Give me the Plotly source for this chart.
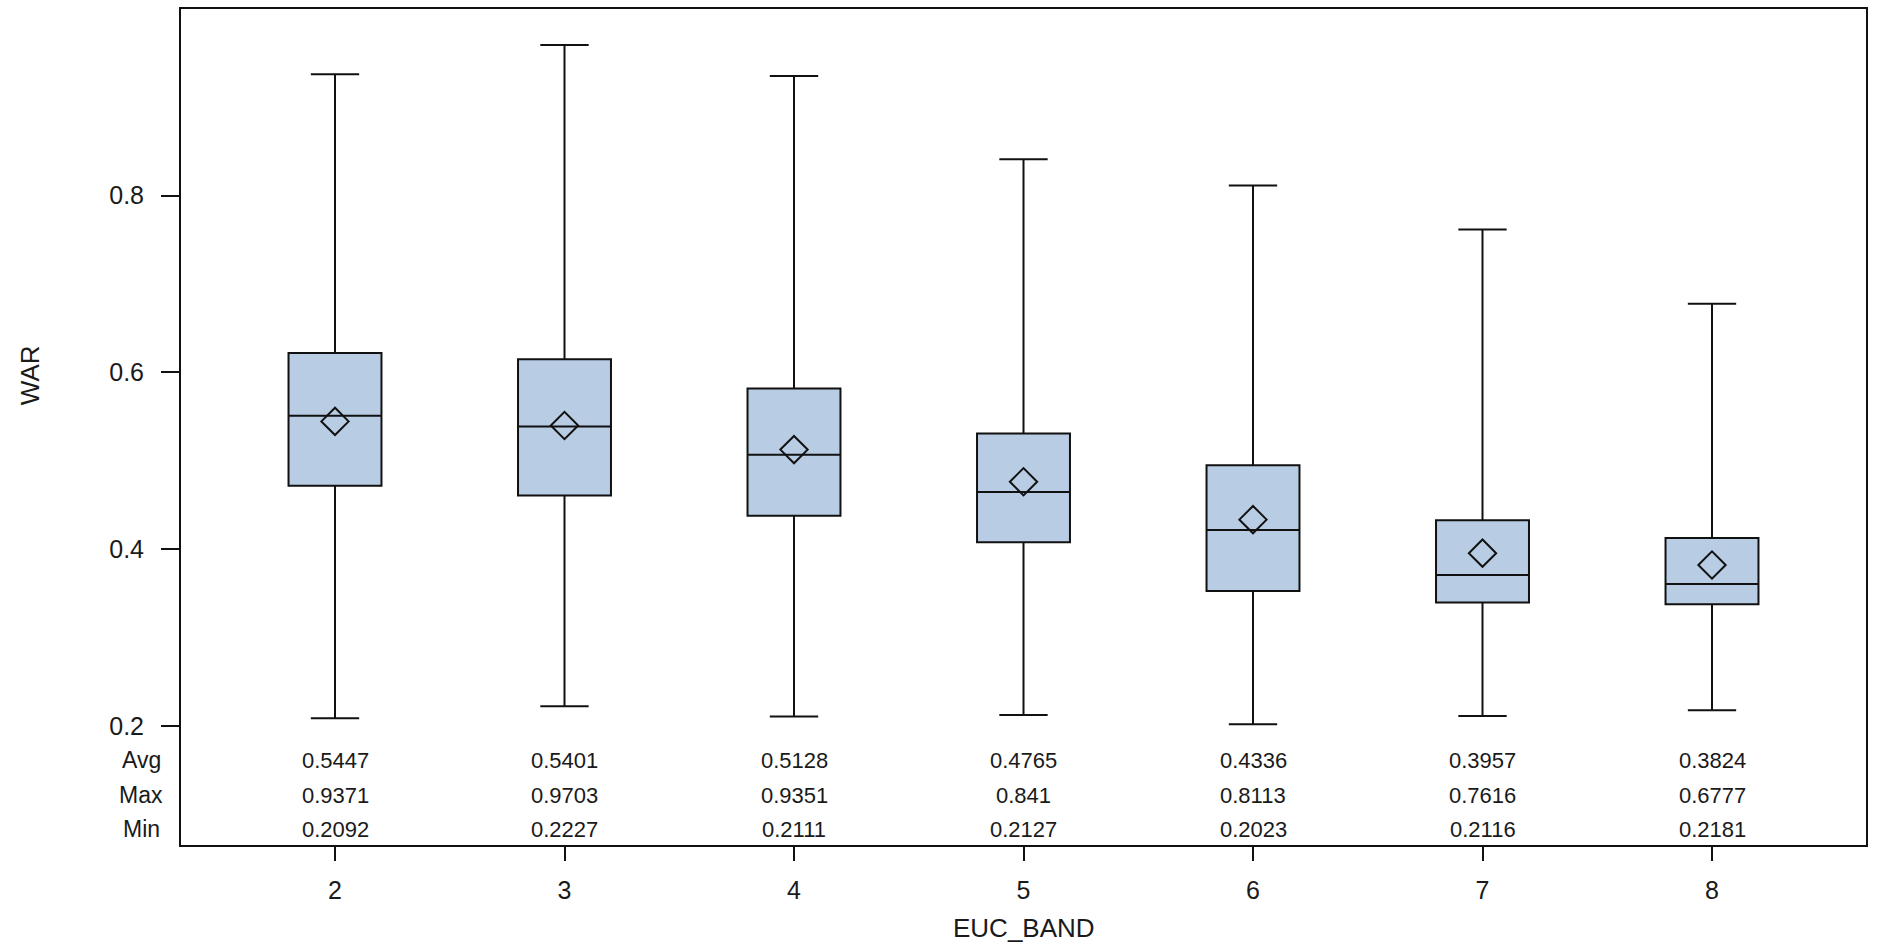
import plotly.graph_objects as go

categories = ["2", "3", "4", "5", "6", "7", "8"]
q1 = [0.472, 0.461, 0.438, 0.408, 0.353, 0.340, 0.338]
median = [0.551, 0.539, 0.507, 0.465, 0.422, 0.371, 0.361]
q3 = [0.622, 0.615, 0.582, 0.531, 0.495, 0.433, 0.413]
avg = [0.5447, 0.5401, 0.5128, 0.4765, 0.4336, 0.3957, 0.3824]
vmax = [0.9371, 0.9703, 0.9351, 0.841, 0.8113, 0.7616, 0.6777]
vmin = [0.2092, 0.2227, 0.2111, 0.2127, 0.2023, 0.2116, 0.2181]
row_labels = ["Avg", "Max", "Min"]

FONT = "Liberation Sans, Arial, sans-serif"
TXT = "#1a1a1a"

fig = go.Figure()
fig.add_trace(go.Box(
    x=categories, q1=q1, median=median, q3=q3,
    lowerfence=vmin, upperfence=vmax,
    width=0.405, whiskerwidth=0.52,
    fillcolor="#B8CCE4", line=dict(color="#111111", width=2),
    boxpoints=False, showlegend=False,
))
fig.add_trace(go.Scatter(
    x=categories, y=avg, mode="markers",
    marker=dict(symbol="diamond-open", size=21, color="#111111",
                line=dict(width=2, color="#111111")),
    showlegend=False,
))

# inset statistics table
row_y = [0.1014, 0.0597, 0.0191]
rows = [avg, vmax, vmin]
for label, yy, vals in zip(row_labels, row_y, rows):
    fig.add_annotation(x=-0.0237, xref="paper", y=yy, yref="paper",
                       text=label, showarrow=False, xanchor="center",
                       yanchor="middle", font=dict(family=FONT, size=23, color=TXT))
    for i, v in enumerate(vals):
        fig.add_annotation(x=i, xref="x", y=yy, yref="paper",
                           text=f"{v:g}", showarrow=False, xanchor="center",
                           yanchor="middle", font=dict(family=FONT, size=22, color=TXT))

fig.add_annotation(x=-0.0896, xref="paper", y=0.562, yref="paper", text="WAR",
                   textangle=-90, showarrow=False, xanchor="center", yanchor="middle",
                   font=dict(family=FONT, size=26, color=TXT))
fig.add_annotation(x=0.5, xref="paper", y=-0.0996, yref="paper", text="EUC_BAND",
                   showarrow=False, xanchor="center", yanchor="middle",
                   font=dict(family=FONT, size=26, color=TXT))

fig.update_layout(
    width=1877, height=948,
    margin=dict(l=181, r=11, t=7, b=103),
    paper_bgcolor="white", plot_bgcolor="white",
    xaxis=dict(type="category", range=[-0.671, 6.671], showgrid=False,
               zeroline=False, showline=True, mirror=True, linecolor="#111111",
               linewidth=2, ticks="outside", ticklen=14, tickwidth=2,
               tickcolor="#111111", ticklabelstandoff=8,
               tickfont=dict(family=FONT, size=25, color=TXT)),
    yaxis=dict(range=[0.0658, 1.0109], tickvals=[0.2, 0.4, 0.6, 0.8],
               ticktext=["0.2", "0.4", "0.6", "0.8"], showgrid=False,
               zeroline=False, showline=True, mirror=True, linecolor="#111111",
               linewidth=2, ticks="outside", ticklen=18, tickwidth=2,
               tickcolor="#111111", ticklabelstandoff=12,
               tickfont=dict(family=FONT, size=25, color=TXT)),
)

fig.write_html("out.html", config={"displayModeBar": False},
               post_script="document.body.style.margin='0';")
